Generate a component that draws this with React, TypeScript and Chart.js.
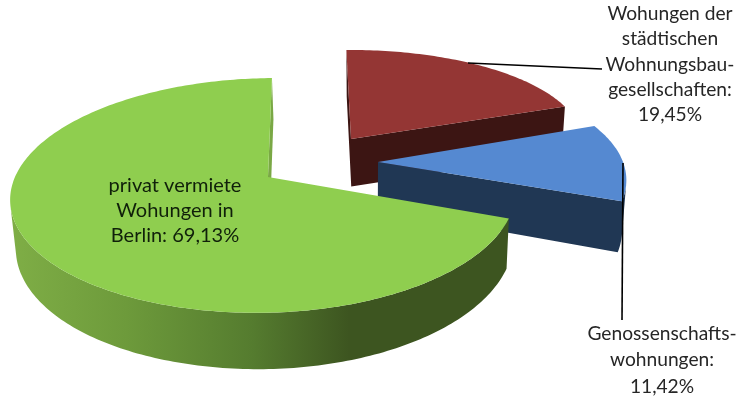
import React, { useEffect, useRef } from "react";
import { Chart, ArcElement, PieController } from "chart.js";

// Share of Berlin's rental housing by type of landlord.
const categories = ["Wohnungen der städtischen Wohnungsbaugesellschaften", "Genossenschaftswohnungen", "privat vermietete Wohungen in Berlin"];
const shares = [19.45, 11.42, 69.13];
const topColors = ["#943634", "#5589d1", "#8fce4f"];
const wallColors = ["#3c1513", "#203754", "#3d5520"];
const GREEN_CUT_WALL = "#7aa845";

const labelLines = [
  ["Wohungen der", "städtischen", "Wohnungsbau-", "gesellschaften:", "19,45%"],
  ["Genossenschafts-", "wohnungen:", "11,42%"],
  ["privat vermiete", "Wohungen in", "Berlin: 69,13%"],
];

const W = 741;
const H = 396;
const FIRST_SLICE_ANGLE = -1.1;
const WALL_HEIGHT = 47.5;
const WALL_VANISH_X = 366;
const WALL_CONVERGE = 0.016;

// Screen placement of each exploded wedge: tip position, radii, and foreshortening.
const wedgeShape = [
  { ax: 351, ay: 139, rx: 231, rxRight: 231, ry: 90.8, k: 0.02, lean: 13 },
  { ax: 378, ay: 162, rx: 245, rxRight: 245, ry: 107, k: 0.2, lean: -45 },
  { ax: 268, ay: 177, rx: 253, rxRight: 246, ry: 114.5, k: 0.157, lean: -60 },
];

const labelPlacement = [
  { x: 670, y: 14, step: 25.3, size: 19.2, color: "#262626" },
  { x: 662, y: 334, step: 26.3, size: 19.2, color: "#262626" },
  { x: 175, y: 186, step: 24.8, size: 20, color: "#10200a" },
];

const leaderLines = [
  [[468, 63], [602, 69]],
  [[623, 163], [622, 320]],
];

type Pt = { x: number; y: number };

class Wedge3D extends ArcElement {
  static id = "wedge3d";

  draw(ctx: CanvasRenderingContext2D) {
    const index = (this as any).$context.index as number;
    const shape = wedgeShape[index];
    const { startAngle, endAngle } = this as any;

    const scaleAt = (v: number) => 1 / (1 + shape.k * v);
    const project = (u: number, v: number): Pt => {
      const s = scaleAt(v);
      return {
        x: shape.ax + shape.lean * (s - 1) + (u < 0 ? shape.rx : shape.rxRight) * u * s,
        y: shape.ay - shape.ry * v * s,
      };
    };
    const lower = (p: Pt, v: number): Pt => ({
      x: p.x + (WALL_VANISH_X - p.x) * WALL_CONVERGE,
      y: p.y + WALL_HEIGHT * scaleAt(v),
    });

    // Outline of the upper face, clockwise on screen: tip, outer arc, back to the tip.
    const steps = Math.max(8, Math.ceil(((endAngle - startAngle) * 180) / Math.PI));
    const ring: { p: Pt; v: number }[] = [{ p: project(0, 0), v: 0 }];
    for (let i = 0; i <= steps; i++) {
      const a = startAngle + ((endAngle - startAngle) * i) / steps;
      const u = Math.cos(a);
      const v = -Math.sin(a);
      ring.push({ p: project(u, v), v });
    }

    let wallFill: string | CanvasGradient = wallColors[index];
    if (index === 2) {
      const g = ctx.createLinearGradient(10, 0, 400, 0);
      g.addColorStop(0, "#7fae46");
      g.addColorStop(0.3, "#6d9a3b");
      g.addColorStop(0.62, "#557c2f");
      g.addColorStop(0.87, "#3d5520");
      g.addColorStop(1, "#3d5520");
      wallFill = g;
    }

    // Every visible wall quad goes into one path, so no seams show between them.
    const addQuad = (path: Path2D, i: number) => {
      const a = ring[i];
      const b = ring[(i + 1) % ring.length];
      const a2 = lower(a.p, a.v);
      const b2 = lower(b.p, b.v);
      const facing = (b.p.y - a.p.y) * (a2.x - a.p.x) - (b.p.x - a.p.x) * (a2.y - a.p.y);
      if (facing <= 0) return;
      path.moveTo(a.p.x, a.p.y);
      path.lineTo(b.p.x, b.p.y);
      path.lineTo(b2.x, b2.y);
      path.lineTo(a2.x, a2.y);
      path.closePath();
    };

    const walls = new Path2D();
    const closingCut = new Path2D();
    ring.forEach((_, i) => addQuad(index === 2 && i === ring.length - 1 ? closingCut : walls, i));

    ctx.save();
    ctx.fillStyle = wallFill;
    ctx.fill(walls);
    ctx.fillStyle = index === 2 ? GREEN_CUT_WALL : wallFill;
    ctx.fill(closingCut);

    ctx.beginPath();
    ring.forEach(({ p }, i) => (i ? ctx.lineTo(p.x, p.y) : ctx.moveTo(p.x, p.y)));
    ctx.closePath();
    ctx.fillStyle = topColors[index];
    ctx.fill();
    ctx.restore();
  }
}

class Pie3DController extends PieController {
  static id = "pie3d";
  static defaults = { dataElementType: "wedge3d" };
}

const calloutPlugin = {
  id: "callouts",
  afterDatasetsDraw(chart: Chart) {
    const { ctx } = chart;
    ctx.save();
    ctx.strokeStyle = "#000";
    ctx.lineWidth = 1.6;
    for (const line of leaderLines) {
      ctx.beginPath();
      line.forEach(([x, y], i) => (i ? ctx.lineTo(x, y) : ctx.moveTo(x, y)));
      ctx.stroke();
    }
    ctx.textAlign = "center";
    ctx.textBaseline = "middle";
    labelLines.forEach((lines, i) => {
      const place = labelPlacement[i];
      ctx.font = `${place.size}px Lato`;
      ctx.fillStyle = place.color;
      lines.forEach((text, j) => ctx.fillText(text, place.x, place.y + j * place.step));
    });
    ctx.restore();
  },
};

Chart.register(ArcElement, Wedge3D, Pie3DController);

export default function App() {
  const ref = useRef<HTMLCanvasElement>(null);
  useEffect(() => {
    document.body.style.margin = "0";
    const chart = new Chart(ref.current!, {
      type: "pie3d" as any,
      data: {
        labels: categories,
        datasets: [{ data: shares, backgroundColor: topColors, borderWidth: 0 }],
      },
      options: {
        animation: false,
        responsive: false,
        rotation: FIRST_SLICE_ANGLE,
        plugins: { legend: { display: false }, tooltip: { enabled: false } },
      } as any,
      plugins: [calloutPlugin],
    });
    return () => chart.destroy();
  }, []);
  return (
    <div style={{ width: W, height: H, background: "#fff" }}>
      <canvas ref={ref} width={W} height={H} style={{ display: "block" }} />
    </div>
  );
}
